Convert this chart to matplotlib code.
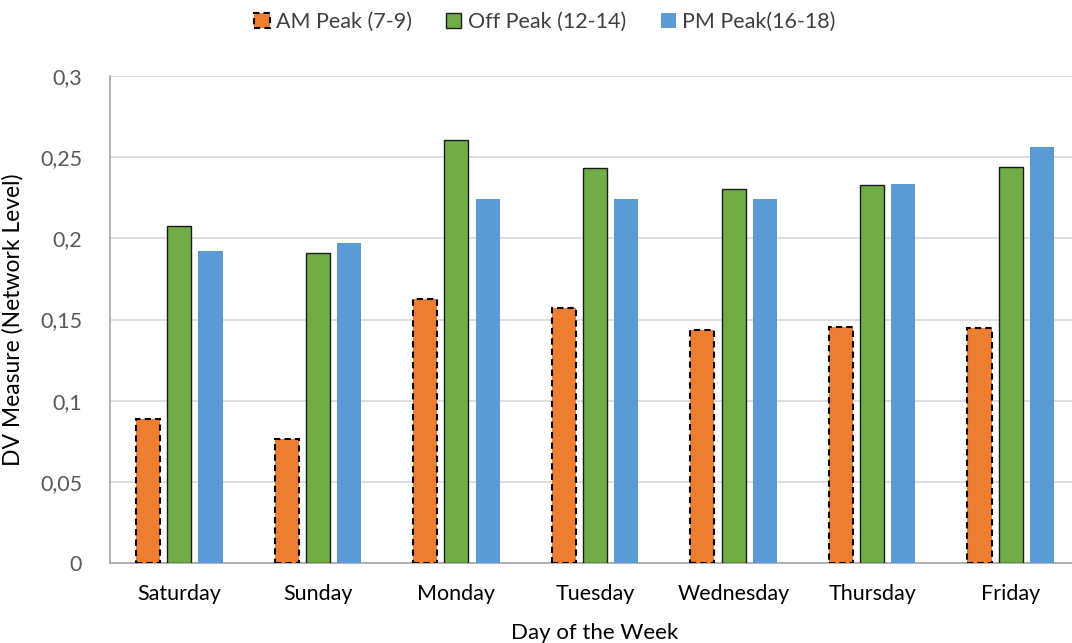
import matplotlib
matplotlib.use("Agg")
import matplotlib.pyplot as plt
import numpy as np
from matplotlib.ticker import FuncFormatter

plt.rcParams['font.family'] = ['Lato', 'DejaVu Sans']

days = ["Saturday", "Sunday", "Monday", "Tuesday", "Wednesday", "Thursday", "Friday"]
am_peak = [0.089, 0.0765, 0.1625, 0.157, 0.1438, 0.1453, 0.1445]
off_peak = [0.2073, 0.1912, 0.2607, 0.2433, 0.2303, 0.2328, 0.2438]
pm_peak = [0.192, 0.197, 0.2245, 0.2245, 0.224, 0.2337, 0.2565]
series_labels = ["AM Peak (7-9)", "Off Peak (12-14)", "PM Peak(16-18)"]
yticks = [0, 0.05, 0.1, 0.15, 0.2, 0.25, 0.3]

fig = plt.figure(figsize=(10.72, 6.43), dpi=100)
ax = fig.add_axes([110/1072, 1 - 563/643, 970/1072, (563-76)/643])

x = np.arange(len(days))
w = 0.174
off = 0.225
b1 = ax.bar(x - off, am_peak, w, color="#ED7D31", edgecolor="black", linestyle=(0, (3, 2)), linewidth=1.5, label=series_labels[0], zorder=3)
b2 = ax.bar(x, off_peak, w, color="#70AD47", edgecolor="#1a1a1a", linewidth=1.0, label=series_labels[1], zorder=3)
b3 = ax.bar(x + off, pm_peak, w, color="#5B9BD5", edgecolor="none", label=series_labels[2], zorder=3)

ax.set_xlim(-0.5, len(days) - 0.5)
ax.set_ylim(0, 0.3)
ax.set_yticks(yticks)
ax.yaxis.set_major_formatter(FuncFormatter(lambda v, p: ("%g" % v).replace(".", ",")))
ax.set_xticks(x)
ax.set_xticklabels(days)
ax.grid(axis="y", color="#d9d9d9", linewidth=1.2, zorder=0)
for s in ["top", "right"]:
    ax.spines[s].set_visible(False)
ax.spines["left"].set_color("#a6a6a6")
ax.spines["bottom"].set_color("#a6a6a6")
ax.spines["left"].set_linewidth(1.2)
ax.spines["bottom"].set_linewidth(1.2)
ax.tick_params(axis="both", length=0)
ax.tick_params(axis="y", labelsize=15.5, labelcolor="#595959", pad=20)
ax.tick_params(axis="x", labelsize=15.5, labelcolor="black", pad=15)
ax.set_ylabel("DV Measure (Network Level)", fontsize=16.5, color="black", labelpad=12)
ax.set_xlabel("Day of the Week", fontsize=16, color="black", labelpad=14)

fig.legend(handles=[b1, b2, b3], labels=series_labels, loc="center", bbox_to_anchor=(545/1072, 1 - 22/643),
           ncol=3, frameon=False, fontsize=15.5, handlelength=0.7, handleheight=0.7, handletextpad=0.3,
           columnspacing=1.6, labelcolor="#404040")

fig.savefig("out.png", dpi=100)
